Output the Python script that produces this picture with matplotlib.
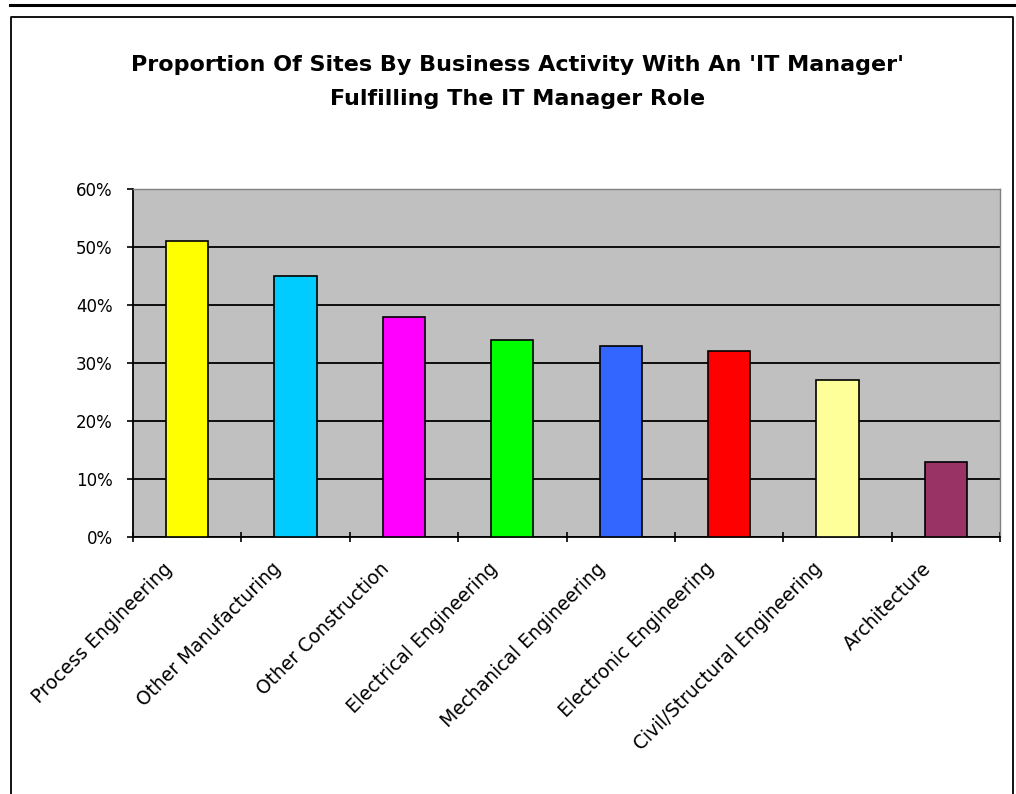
import matplotlib
matplotlib.use('Agg')
import matplotlib.pyplot as plt
from matplotlib.lines import Line2D
from matplotlib.ticker import FixedLocator, PercentFormatter
from matplotlib.transforms import ScaledTranslation, blended_transform_factory
import numpy as np

TITLE_LINES = ["Proportion Of Sites By Business Activity With An 'IT Manager'",
               "Fulfilling The IT Manager Role"]
CATEGORIES = [
    'Process Engineering', 'Other Manufacturing', 'Other Construction',
    'Electrical Engineering', 'Mechanical Engineering', 'Electronic Engineering',
    'Civil/Structural Engineering', 'Architecture',
]
VALUES = [51, 45, 38, 34, 33, 32, 27, 13]
COLORS = ['#FFFF00', '#00CCFF', '#FF00FF', '#00FF00', '#3366FF', '#FF0000', '#FFFF99', '#993366']
Y_TICKS = [0, 10, 20, 30, 40, 50, 60]

W, H = 1016, 794
plt.rcParams['font.family'] = ['DejaVu Sans']

fig = plt.figure(figsize=(W / 100, H / 100), dpi=100)

# outer decorations: top rule and the chart frame
fig.add_artist(Line2D([10 / W, 1.0], [1 - 5 / H, 1 - 5 / H], color='black', lw=2.2))
fig.add_artist(Line2D([11 / W, 11 / W, 1013 / W, 1013 / W], [0, 1 - 17 / H, 1 - 17 / H, 0],
                      color='black', lw=1.3))

for line, ypix in zip(TITLE_LINES, (65, 99)):
    fig.text(0.509, 1 - ypix / H, line, ha='center', va='center', fontsize=16,
             fontweight='bold')

ax = fig.add_axes([133 / W, 1 - 537 / H, (1000 - 133) / W, (537 - 189) / H])
ax.set_facecolor('#C0C0C0')

x = np.arange(len(CATEGORIES))
ax.bar(x, VALUES, width=0.39, color=COLORS, edgecolor='black', linewidth=1.2, zorder=3)

ax.set_xlim(-0.5, len(CATEGORIES) - 0.5)
ax.set_ylim(0, 60)
ax.set_yticks(Y_TICKS)
ax.yaxis.set_major_formatter(PercentFormatter(decimals=0))
ax.yaxis.grid(True, color='black', lw=1.3, zorder=1)
ax.set_axisbelow(True)

# ticks sit on category boundaries, labels go under the bar centres
ax.xaxis.set_major_locator(FixedLocator(np.arange(len(CATEGORIES) + 1) - 0.5))
ax.xaxis.set_major_formatter(plt.NullFormatter())
trans = blended_transform_factory(ax.transData, ax.transAxes) + \
    ScaledTranslation(-0.245, -0.22, fig.dpi_scale_trans)
for xi, name in zip(x, CATEGORIES):
    ax.text(xi, 0, name, transform=trans, rotation=45, ha='right', va='top',
            rotation_mode='anchor', fontsize=13.5, clip_on=False)

ax.tick_params(axis='x', which='major', length=7.5, width=1.2, direction='inout')
ax.tick_params(axis='y', length=4.5, width=1.2, direction='out', labelsize=12, pad=10)

for side in ('top', 'right'):
    ax.spines[side].set_color('#808080')
    ax.spines[side].set_linewidth(1.0)
for side in ('left', 'bottom'):
    ax.spines[side].set_linewidth(1.3)

fig.savefig('out.png', dpi=100)
